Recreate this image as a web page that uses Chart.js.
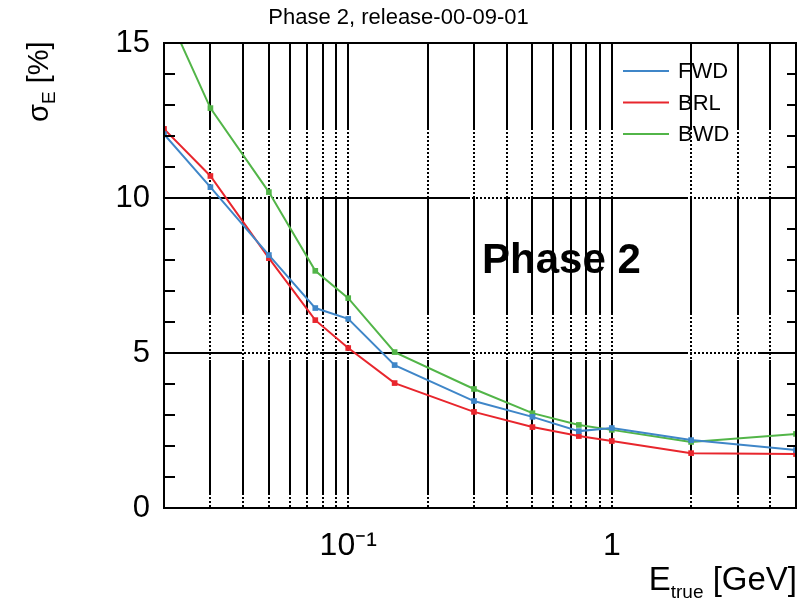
<!DOCTYPE html>
<html>
<head>
<meta charset="utf-8">
<script src="https://cdn.jsdelivr.net/npm/chart.js@4.4.1/dist/chart.umd.min.js"></script>
<style>
  html, body { margin: 0; padding: 0; background: #fff; }
</style>
</head>
<body>
<canvas id="resChart" width="800" height="601"></canvas>
<script>
// energy points [GeV] and resolution [%] per region
const energies = [0.02, 0.03, 0.05, 0.075, 0.1, 0.15, 0.3, 0.5, 0.75, 1, 2, 5];
const fwdRes = [12.06, 10.35, 8.16, 6.45, 6.1, 4.61, 3.45, 2.94, 2.48, 2.58, 2.19, 1.87];
const brlRes = [12.23, 10.71, 8.06, 6.06, 5.16, 4.03, 3.1, 2.61, 2.32, 2.16, 1.77, 1.74];
const bwdRes = [16.2, 12.9, 10.19, 7.65, 6.77, 5.03, 3.84, 3.06, 2.68, 2.52, 2.13, 2.39];
const seriesNames = ['FWD', 'BRL', 'BWD'];
const seriesColors = ['#3f86c8', '#e8262d', '#52b548'];

// axis ticks
const xGridValues = [0.02, 0.03, 0.04, 0.05, 0.06, 0.07, 0.08, 0.09,
  0.1, 0.2, 0.3, 0.4, 0.5, 0.6, 0.7, 0.8, 0.9, 1, 2, 3, 4, 5];
const xLabelValues = [0.1, 1];
const xLabelTexts = ['10\u207B\u00B9', '1'];
const yLabelValues = [0, 5, 10, 15];

const FONT = '"Liberation Sans", Arial, Helvetica, sans-serif';

// ROOT style grid: solid runs broken by dotted stretches
function dashFrom(segs) {
  const runs = [];
  segs.forEach(([kind, len]) => {
    if (kind === 'S') { runs.push([true, len]); return; }
    const n = Math.floor(len / 4);
    for (let i = 0; i < n; i++) { runs.push([false, 2]); runs.push([true, 2]); }
    runs.push([false, len - n * 4]);
  });
  const out = [];
  let cur = true, acc = 0;
  runs.forEach(([on, len]) => {
    if (on === cur) { acc += len; }
    else { out.push(acc); cur = on; acc = len; }
  });
  out.push(acc);
  if (out.length % 2) out.push(0);
  return out;
}
const vDash = dashFrom([['S', 87], ['D', 68], ['S', 117], ['D', 45], ['S', 135], ['D', 13]]);
const hDash = dashFrom([['S', 78], ['D', 80], ['S', 148], ['D', 62], ['S', 156], ['D', 72], ['S', 37]]);

const decor = {
  id: 'decor',
  beforeDatasetsDraw(chart) {
    const ctx = chart.ctx;
    ctx.save();
    ctx.fillStyle = '#000';
    ctx.font = 'bold 42px ' + FONT;
    ctx.textBaseline = 'alphabetic';
    ctx.fillText('Phase 2', 482, 273);
    ctx.restore();
  },
  afterDraw(chart) {
    const ctx = chart.ctx;
    const a = chart.chartArea;
    const ys = chart.scales.y;
    ctx.save();
    ctx.strokeStyle = '#000';
    ctx.lineWidth = 2;
    ctx.strokeRect(a.left, a.top, a.right - a.left, a.bottom - a.top);

    // inward minor ticks on left and right
    ctx.beginPath();
    ys.ticks.forEach(t => {
      const y = Math.round(ys.getPixelForValue(t.value));
      ctx.moveTo(a.left, y); ctx.lineTo(a.left + 11, y);
      ctx.moveTo(a.right, y); ctx.lineTo(a.right - 9, y);
    });
    ctx.stroke();

    // legend
    ctx.font = '22px ' + FONT;
    ctx.textBaseline = 'middle';
    chart.data.datasets.forEach((ds, i) => {
      const y = 71 + i * 31.5;
      ctx.strokeStyle = ds.borderColor;
      ctx.lineWidth = 2;
      ctx.beginPath(); ctx.moveTo(623, y); ctx.lineTo(669, y); ctx.stroke();
      ctx.fillStyle = '#000';
      ctx.fillText(ds.label, 678, y + 1);
    });

    // y title: sigma_E [%]
    ctx.save();
    ctx.translate(48, 122);
    ctx.rotate(-Math.PI / 2);
    ctx.textBaseline = 'alphabetic';
    ctx.font = '29px ' + FONT;
    ctx.fillText('\u03C3', 0, 0);
    let w = ctx.measureText('\u03C3').width;
    ctx.font = '19px ' + FONT;
    ctx.fillText('E', w, 7);
    w += ctx.measureText('E').width;
    ctx.font = '29px ' + FONT;
    ctx.fillText(' [%]', w, 0);
    ctx.restore();

    // x title: E_true [GeV]
    ctx.textBaseline = 'alphabetic';
    ctx.font = '33px ' + FONT;
    const wE = ctx.measureText('E').width;
    const wRest = ctx.measureText(' [GeV]').width;
    ctx.font = '19px ' + FONT;
    const wSub = ctx.measureText('true').width;
    let x = 797 - (wE + wSub + wRest);
    ctx.font = '33px ' + FONT;
    ctx.fillText('E', x, 590);
    x += wE;
    ctx.font = '19px ' + FONT;
    ctx.fillText('true', x, 598);
    x += wSub;
    ctx.font = '33px ' + FONT;
    ctx.fillText(' [GeV]', x, 590);
    ctx.restore();
  }
};

function makeSet(i, values) {
  return {
    label: seriesNames[i],
    data: energies.map((e, k) => ({ x: e, y: values[k] })),
    borderColor: seriesColors[i],
    backgroundColor: seriesColors[i],
    borderWidth: 2,
    pointStyle: 'rect',
    pointRadius: 4,
    pointBorderWidth: 0,
    tension: 0
  };
}

const ctx = document.getElementById('resChart').getContext('2d');
const chart = new Chart(ctx, {
  type: 'line',
  data: {
    datasets: [makeSet(0, fwdRes), makeSet(1, brlRes), makeSet(2, bwdRes)]
  },
  options: {
    responsive: false,
    animation: false,
    layout: { padding: { left: 0, right: 3, top: 0, bottom: 0 } },
    plugins: {
      legend: { display: false },
      tooltip: { enabled: false },
      title: {
        display: true,
        text: 'Phase 2, release-00-09-01',
        color: '#000',
        font: { family: FONT, size: 22, weight: 'normal' },
        padding: { top: 5, bottom: 11.6 }
      }
    },
    scales: {
      x: {
        type: 'logarithmic',
        min: 0.02,
        max: 5,
        afterBuildTicks: s => { s.ticks = xGridValues.map(v => ({ value: v })); },
        afterFit: s => { s.height = 93; s.paddingLeft = 0; s.paddingRight = 0; },
        border: { display: false, dash: vDash },
        grid: {
          color: c => (c.tick && (c.tick.value === 0.02 || c.tick.value === 5)) ? 'rgba(0,0,0,0)' : '#000',
          lineWidth: 2,
          drawTicks: false
        },
        ticks: {
          autoSkip: false,
          maxRotation: 0,
          padding: 19,
          color: '#000',
          font: { family: FONT, size: 32 },
          callback: v => {
            const i = xLabelValues.indexOf(v);
            return i >= 0 ? xLabelTexts[i] : '';
          }
        }
      },
      y: {
        min: 0,
        max: 15,
        afterFit: s => { s.width = 164; s.paddingTop = 0; s.paddingBottom = 0; },
        border: { display: false, dash: hDash },
        grid: {
          color: c => (c.tick && (c.tick.value === 5 || c.tick.value === 10)) ? '#000' : 'rgba(0,0,0,0)',
          lineWidth: 2,
          drawTicks: false
        },
        ticks: {
          stepSize: 1,
          autoSkip: false,
          maxTicksLimit: 100,
          padding: 14,
          color: '#000',
          font: { family: FONT, size: 31 },
          callback: v => yLabelValues.includes(v) ? String(v) : ''
        }
      }
    }
  },
  plugins: [decor]
});
</script>
</body>
</html>
